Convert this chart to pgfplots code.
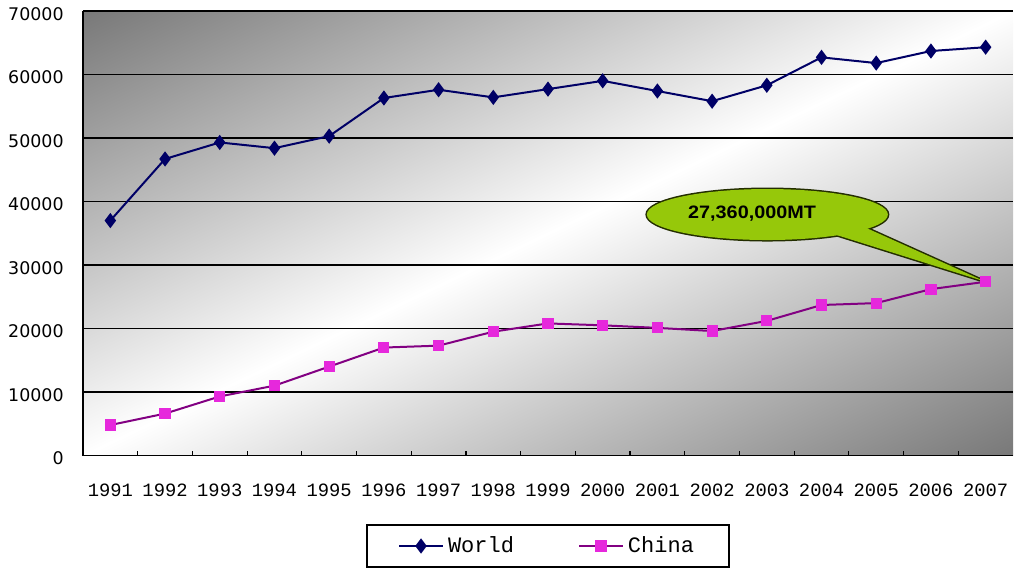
\documentclass[border=0pt]{standalone}
\usepackage{pgfplots}
\pgfplotsset{compat=1.18}
\usepackage{fontspec}
\setmainfont{DejaVu Sans}
\newfontfamily\monofont{Liberation Mono}
\newfontfamily\calloutfont{Liberation Sans}

\definecolor{worldline}{RGB}{0,0,102}
\definecolor{chinaline}{RGB}{130,0,130}
\definecolor{chinamark}{RGB}{230,40,220}
\definecolor{calloutfill}{RGB}{150,200,10}
\definecolor{calloutedge}{RGB}{35,45,0}
\definecolor{bgdark}{RGB}{120,120,120}

% grey-white-grey band: 25bp and 75bp sit on the plot-area corners
\pgfdeclarehorizontalshading{plotbg}{100bp}{color(0bp)=(bgdark); color(25bp)=(bgdark); color(50bp)=(white); color(75bp)=(bgdark); color(100bp)=(bgdark)}

\pgfplotstableread{
idx world china
0  37000  4800
1  46700  6600
2  49300  9300
3  48400 11000
4  50300 14000
5  56300 17000
6  57600 17300
7  56400 19500
8  57700 20800
9  59000 20500
10 57400 20100
11 55800 19600
12 58300 21200
13 62700 23700
14 61800 24000
15 63700 26200
16 64300 27360
}\production

\begin{document}
\begin{tikzpicture}
\path[use as bounding box] (-41.5bp,-56.25bp) rectangle (466bp,227.75bp);
% plot-area background, white along the lower-left to upper-right diagonal
\begin{scope}
  \clip (0bp,0bp) rectangle (465bp,222.25bp);
  \begin{scope}[transform canvas={shift={(232.5bp,111.125bp)}, rotate=-64.45}]
    \shade[shading=plotbg] (-201bp,-400bp) rectangle (201bp,400bp);
  \end{scope}
\end{scope}
\begin{axis}[
  at={(0,0)}, anchor=south west,
  width=465bp, height=222.25bp, scale only axis,
  xmin=-0.5, xmax=16.5, ymin=0, ymax=70000,
  clip=false,
  axis x line*=bottom, axis y line*=left,
  axis line style={black, line width=0.75bp},
  tick align=inside,
  xtick={0,...,16},
  xticklabels={1991,1992,1993,1994,1995,1996,1997,1998,1999,2000,2001,2002,2003,2004,2005,2006,2007},
  major x tick style={draw=none},
  minor xtick={0.5,1.5,...,15.5},
  minor tick length=2.5bp,
  minor x tick style={black, line width=0.6bp},
  xticklabel style={font=\monofont\fontsize{9.4bp}{10bp}\selectfont, anchor=base, inner sep=0pt, yshift=-20.25bp},
  ytick={0,10000,...,70000},
  yticklabels={0,10000,20000,30000,40000,50000,60000,70000},
  scaled y ticks=false,
  major y tick style={draw=none},
  yticklabel style={font=\fontsize{8.7bp}{10bp}\selectfont, anchor=east, inner sep=0pt, xshift=-9.5bp, yshift=-1.5bp},
  ymajorgrids,
  major grid style={black, line width=0.75bp},
  legend columns=2,
  legend style={at={(0.5,-0.2036)}, anchor=center, draw=black, line width=0.75bp,
    font=\monofont\fontsize{11bp}{12bp}\selectfont,
    inner xsep=15.5bp, inner ysep=3.75bp,
    /tikz/every even column/.append style={column sep=30bp}},
  legend image code/.code={\draw[mark repeat=2,mark phase=2] plot coordinates {(0bp,0bp) (11bp,0bp) (22bp,0bp)};},
]
\addplot[worldline, line width=1bp, mark=diamond*, mark size=3bp,
  mark options={fill=worldline, draw=worldline}] table[x=idx, y=world] {\production};
\addlegendentry{World}
\addplot[chinaline, line width=1bp, mark=square*, mark size=2.3bp,
  mark options={fill=chinamark, draw=chinamark}] table[x=idx, y=china] {\production};
\addlegendentry{China}

% callout for the 2007 China value
\draw[calloutedge, line width=1.5bp, line join=round]
  (axis cs:13.1,35200) -- (axis cs:16,27360) -- (axis cs:13.74,36140) -- cycle;
\draw[calloutedge, line width=1.5bp]
  (axis cs:12.01,37950) ellipse [x radius=60.25bp, y radius=12.75bp];
\fill[calloutfill]
  (axis cs:13.1,35200) -- (axis cs:16,27360) -- (axis cs:13.74,36140) -- cycle;
\fill[calloutfill]
  (axis cs:12.01,37950) ellipse [x radius=60.25bp, y radius=12.75bp];
\node[font=\calloutfont\bfseries\fontsize{9bp}{10bp}\selectfont, xscale=1.1, text=black]
  at (axis cs:11.73,38110) {27,360,000MT};
\end{axis}
\end{tikzpicture}
\end{document}
